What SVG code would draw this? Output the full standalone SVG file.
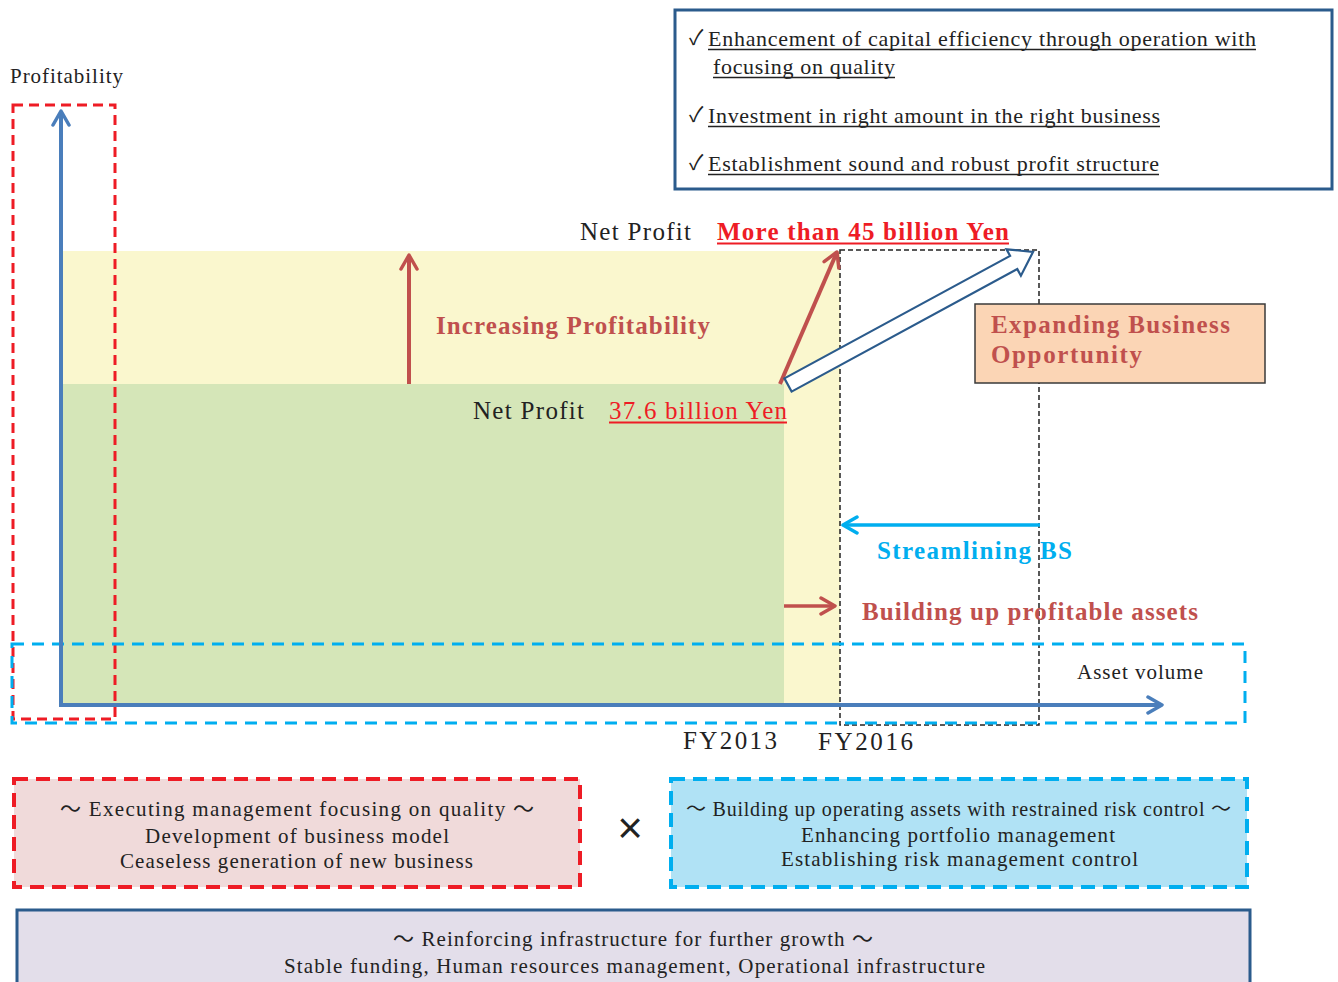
<svg xmlns="http://www.w3.org/2000/svg" width="1338" height="982" viewBox="0 0 1338 982">
<defs>
<style>
.s{font-family:"Liberation Serif","Times New Roman","Noto Sans CJK JP",serif;fill:#222}
.b{font-weight:bold;fill:#C0504D}
.ul{stroke:#222;stroke-width:1.5}
.ur{stroke:#EE1C25;stroke-width:2}
</style>
<marker id="ax" viewBox="0 0 20 20" refX="17" refY="10" markerWidth="20" markerHeight="20" markerUnits="userSpaceOnUse" orient="auto">
<path d="M3,2 L17,10 L3,18" fill="none" stroke="#4A7EBB" stroke-width="3.5" stroke-linecap="round" stroke-linejoin="round"/>
</marker>
<marker id="ar" viewBox="0 0 20 20" refX="17" refY="10" markerWidth="20" markerHeight="20" markerUnits="userSpaceOnUse" orient="auto">
<path d="M3,2 L17,10 L3,18" fill="none" stroke="#C0504D" stroke-width="3.5" stroke-linecap="round" stroke-linejoin="round"/>
</marker>
<marker id="ac" viewBox="0 0 20 20" refX="17" refY="10" markerWidth="20" markerHeight="20" markerUnits="userSpaceOnUse" orient="auto">
<path d="M3,2 L17,10 L3,18" fill="none" stroke="#00AEEF" stroke-width="3.5" stroke-linecap="round" stroke-linejoin="round"/>
</marker>
</defs>
<rect width="1338" height="982" fill="#fff"/>

<g id="chart-areas">
<rect x="63" y="251" width="777" height="453" fill="#FAF7CE"/>
<rect x="63" y="384" width="721" height="320" fill="#D5E6B8"/>
</g>

<g id="fy2016-frame">
<rect x="840" y="250" width="199" height="475" fill="none" stroke="#222" stroke-width="1.5" stroke-dasharray="5 3"/>
</g>

<g id="quality-frame">
<rect x="13" y="105" width="102" height="614" fill="none" stroke="#EE1C25" stroke-width="3" stroke-dasharray="10 6"/>
</g>
<g id="asset-frame">
<rect x="12" y="644" width="1233" height="79" fill="none" stroke="#00AEEF" stroke-width="3" stroke-dasharray="12 8"/>
</g>

<g id="connectors">
<line x1="61" y1="705" x2="61" y2="111" stroke="#4A7EBB" stroke-width="4" marker-end="url(#ax)"/>
<line x1="59" y1="705" x2="1162" y2="705" stroke="#4A7EBB" stroke-width="4" marker-end="url(#ax)"/>
<line x1="409" y1="384" x2="409" y2="255" stroke="#C0504D" stroke-width="4" marker-end="url(#ar)"/>
<line x1="780" y1="384" x2="837" y2="252" stroke="#C0504D" stroke-width="4" marker-end="url(#ar)"/>
<line x1="1040" y1="525" x2="843" y2="525" stroke="#00AEEF" stroke-width="3.5" marker-end="url(#ac)"/>
<line x1="784" y1="606" x2="835" y2="606" stroke="#C0504D" stroke-width="3.5" marker-end="url(#ar)"/>
<polygon points="784.4,378.4 1010.1,255.9 1006.5,249.3 1033,252 1020.9,275.7 1017.3,269.1 791.6,391.6" fill="#fff" stroke="#2B5B8C" stroke-width="2.2" stroke-linejoin="miter"/>
</g>

<g id="axis-labels">
<text class="s" x="10" y="83" font-size="21" textLength="113">Profitability</text>
<text class="s" x="1077" y="679" font-size="21" textLength="126">Asset volume</text>
<text class="s" x="683" y="749" font-size="25" textLength="94">FY2013</text>
<text class="s" x="818" y="750" font-size="25" textLength="95">FY2016</text>
</g>

<g id="target-profit">
<text class="s" x="580" y="240" font-size="25" textLength="111">Net Profit</text>
<text class="s" x="717" y="240" font-size="25" font-weight="bold" style="fill:#EE1C25" textLength="292">More than 45 billion Yen</text>
<line class="ur" x1="717" y1="243.5" x2="1009" y2="243.5"/>
</g>
<g id="current-profit">
<text class="s" x="473" y="419" font-size="25" textLength="111">Net Profit</text>
<text class="s" x="609" y="419" font-size="25" style="fill:#EE1C25" textLength="178">37.6 billion Yen</text>
<line class="ur" x1="609" y1="422.5" x2="787" y2="422.5"/>
</g>
<g id="increasing-profitability">
<text class="s b" x="436" y="334" font-size="25" textLength="274">Increasing Profitability</text>
</g>
<g id="expanding-business">
<rect x="975" y="304" width="290" height="79" fill="#FBD5B5" stroke="#3A3A3A" stroke-width="1.5"/>
<text class="s b" x="991" y="333" font-size="25" textLength="239">Expanding Business</text>
<text class="s b" x="991" y="363" font-size="25" textLength="151">Opportunity</text>
</g>
<g id="streamlining">
<text class="s" x="877" y="559" font-size="25" font-weight="bold" style="fill:#00AEEF" textLength="195">Streamlining BS</text>
</g>
<g id="building-assets">
<text class="s b" x="862" y="620" font-size="25" textLength="336">Building up profitable assets</text>
</g>

<g id="policy-box">
<rect x="675" y="10" width="657" height="179" fill="#fff" stroke="#2B5B8C" stroke-width="3"/>
<text class="s" x="689" y="45" font-size="21">✓</text>
<text class="s" x="708" y="46" font-size="22" textLength="548">Enhancement of capital efficiency through operation with</text>
<line class="ul" x1="708" y1="49.5" x2="1256" y2="49.5"/>
<text class="s" x="713" y="74" font-size="22" textLength="182">focusing on quality</text>
<line class="ul" x1="713" y1="77.5" x2="895" y2="77.5"/>
<text class="s" x="689" y="122" font-size="21">✓</text>
<text class="s" x="708" y="123" font-size="22" textLength="452">Investment in right amount in the right business</text>
<line class="ul" x1="708" y1="126.5" x2="1160" y2="126.5"/>
<text class="s" x="689" y="170" font-size="21">✓</text>
<text class="s" x="708" y="171" font-size="22" textLength="451">Establishment sound and robust profit structure</text>
<line class="ul" x1="708" y1="174.5" x2="1159" y2="174.5"/>
</g>

<g id="quality-box">
<rect x="14" y="779" width="566" height="108" fill="#F0DADA" stroke="#EE1C25" stroke-width="4" stroke-dasharray="14 8"/>
<text class="s" x="60" y="816" font-size="21" textLength="474">～ Executing management focusing on quality ～</text>
<text class="s" x="145" y="843" font-size="21" textLength="304">Development of business model</text>
<text class="s" x="120" y="868" font-size="21" textLength="353">Ceaseless generation of new business</text>
</g>

<g id="times-sign">
<text x="630" y="843" font-size="44" font-family="Liberation Sans, Arial, sans-serif" fill="#222" text-anchor="middle">×</text>
</g>

<g id="risk-box">
<rect x="671" y="779" width="576" height="108" fill="#B0E2F5" stroke="#00AEEF" stroke-width="4" stroke-dasharray="14 8"/>
<text class="s" x="686" y="816" font-size="20" textLength="545">～ Building up operating assets with restrained risk control ～</text>
<text class="s" x="801" y="842" font-size="21" textLength="314">Enhancing portfolio management</text>
<text class="s" x="781" y="866" font-size="21" textLength="357">Establishing risk management control</text>
</g>

<g id="infrastructure-box">
<rect x="17" y="910" width="1233" height="80" fill="#E3DEEA" stroke="#2B5B8C" stroke-width="3"/>
<text class="s" x="393" y="946" font-size="21" textLength="480">～ Reinforcing infrastructure for further growth ～</text>
<text class="s" x="284" y="973" font-size="21" textLength="701">Stable funding, Human resources management, Operational infrastructure</text>
</g>
</svg>
